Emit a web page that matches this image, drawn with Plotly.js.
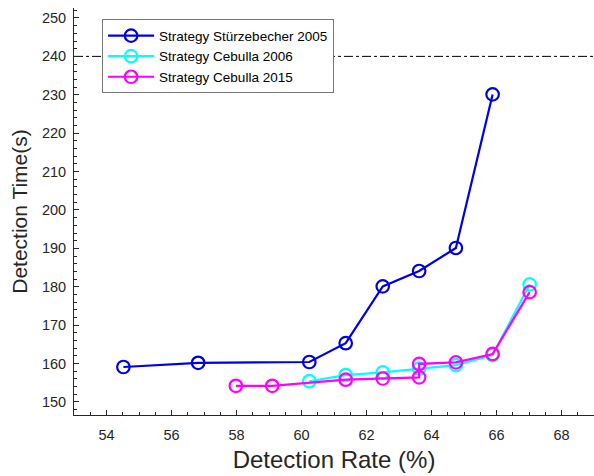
<!DOCTYPE html>
<html><head><meta charset="utf-8">
<script src="https://cdn.plot.ly/plotly-3.0.1.min.js"></script>
<style>body{margin:0;padding:0;background:#fff}#chart{width:594px;height:476px}</style>
</head><body><div id="chart"></div>
<script>
const seriesNames = ['Strategy Stürzebecher 2005', 'Strategy Cebulla 2006', 'Strategy Cebulla 2015'];
const rateStz = [54.52, 56.82, 60.24, 61.36, 62.5, 63.62, 64.75, 65.88];
const timeStz = [159.1, 160.2, 160.4, 165.3, 180.1, 184.1, 190.1, 230.1];
const rateC06 = [60.24, 61.36, 62.5, 63.62, 64.75, 65.88, 67.02];
const timeC06 = [155.4, 157.0, 157.7, 158.7, 159.6, 162.2, 180.6];
const rateC15 = [57.98, 59.1, 61.36, 62.5, 63.62, 63.62, 64.75, 65.88, 67.02];
const timeC15 = [154.2, 154.2, 155.8, 156.1, 156.4, 159.9, 160.3, 162.5, 178.6];
const limitX = [53, 69];
const limitY = [240, 240];
const xTicks = [54, 56, 58, 60, 62, 64, 66, 68];
const yTicks = [150, 160, 170, 180, 190, 200, 210, 220, 230, 240, 250];

const colors = ['#0000e6', '#00ffff', '#ff00ff'];
function series(x, y, i) {
  return {x: x, y: y, name: seriesNames[i], type: 'scatter', mode: 'lines+markers',
    line: {color: colors[i], width: 2.2},
    marker: {symbol: 'circle-open', size: 12.5, color: colors[i], line: {width: 2.2, color: colors[i]}}};
}
const data = [
  {x: limitX, y: limitY, type: 'scatter', mode: 'lines', showlegend: false, hoverinfo: 'skip',
   line: {color: '#000', width: 1, dash: 'dashdot'}},
  series(rateStz, timeStz, 0),
  series(rateC06, timeC06, 1),
  series(rateC15, timeC15, 2)
];
const font = {family: 'Liberation Sans, Arial, sans-serif', color: '#262626'};
const layout = {
  width: 594, height: 476,
  margin: {l: 74, r: 0, t: 8, b: 61},
  paper_bgcolor: '#fff', plot_bgcolor: '#fff',
  font: font,
  showlegend: true,
  xaxis: {range: [53, 69], tickvals: xTicks, ticktext: xTicks.map(String),
    showgrid: false, zeroline: false, showline: true, linecolor: '#262626', linewidth: 1,
    ticks: 'inside', ticklen: 5, tickcolor: '#262626', tickfont: {size: 14.5, color: '#262626', family: font.family},
    ticklabelstandoff: 7,
    minor: {dtick: 0.5, tick0: 53, ticks: 'inside', ticklen: 3, tickcolor: '#262626', showgrid: false},
    title: {text: 'Detection Rate (%)', font: {size: 24, color: '#262626', family: font.family}, standoff: 8}},
  yaxis: {range: [146.6, 252.6], tickvals: yTicks, ticktext: yTicks.map(String),
    showgrid: false, zeroline: false, showline: true, linecolor: '#262626', linewidth: 1,
    ticks: 'inside', ticklen: 5, tickcolor: '#262626', tickfont: {size: 14.5, color: '#262626', family: font.family},
    ticklabelstandoff: 4,
    minor: {dtick: 2, tick0: 146, ticks: 'inside', ticklen: 3, tickcolor: '#262626', showgrid: false},
    title: {text: 'Detection Time(s)', font: {size: 21, color: '#262626', family: font.family}, standoff: 8}},
  legend: {x: 0.054, y: 0.972, xanchor: 'left', yanchor: 'top', bgcolor: '#fff',
    bordercolor: '#777', borderwidth: 1, font: {size: 13.5, color: '#000', family: font.family},
    tracegroupgap: 0, itemwidth: 46}
};
Plotly.newPlot('chart', data, layout, {displayModeBar: false, staticPlot: true});
</script></body></html>
